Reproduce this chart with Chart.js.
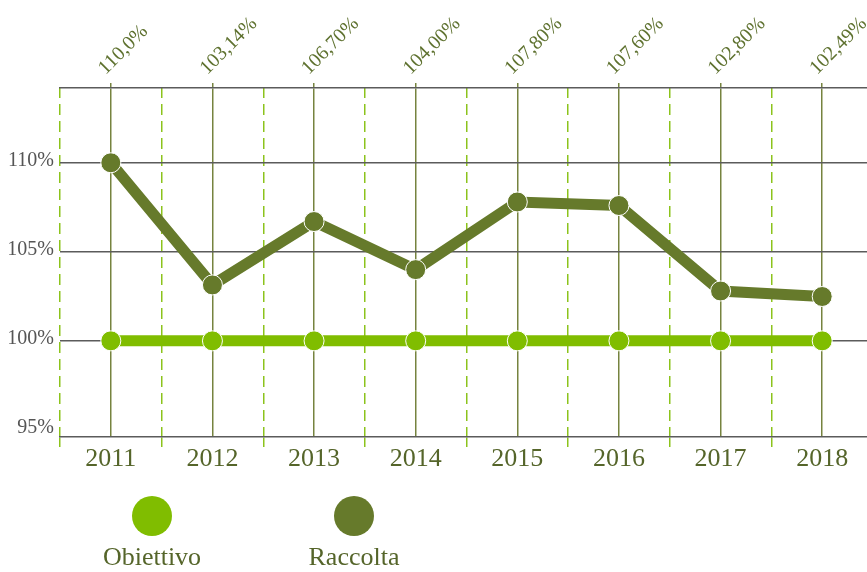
<!DOCTYPE html>
<html>
<head>
<meta charset="utf-8">
<script src="https://cdn.jsdelivr.net/npm/chart.js@4/dist/chart.umd.min.js"></script>
<style>
    html, body { margin: 0; padding: 0; background: #fff; overflow: hidden; }
    #wrap { position: relative; width: 867px; height: 572px; overflow: hidden; }
    #chart { position: absolute; left: 0; top: 0; }
    #legend { position: absolute; left: 0; top: 0; width: 867px; height: 572px; pointer-events: none; }
    .item { position: absolute; top: 496px; width: 160px; margin-left: -80px; text-align: center;
            font-family: "Liberation Serif", serif; font-size: 26px; color: #55652a; }
    .dot { width: 40px; height: 40px; border-radius: 50%; margin: 0 auto 6px auto; }
</style>
</head>
<body>
<div id="wrap">
    <canvas id="chart" width="873" height="572"></canvas>
    <div id="legend"></div>
</div>
<script>
var years = ['2011', '2012', '2013', '2014', '2015', '2016', '2017', '2018'];
var obiettivo = [100, 100, 100, 100, 100, 100, 100, 100];
var raccolta = [110.0, 103.14, 106.70, 104.00, 107.80, 107.60, 102.80, 102.49];
var topLabels = ['110,0%', '103,14%', '106,70%', '104,00%', '107,80%', '107,60%', '102,80%', '102,49%'];
var yTicks = [95, 100, 105, 110];

var colObiettivo = '#80bd00';
var colRaccolta = '#667a2b';
var legendCentres = [152, 354];

var serif = '"Liberation Serif", "Times New Roman", serif';

// no extra side padding for the rotated labels, the plot runs off the right edge
function noSidePadding(scale) {
    scale.paddingLeft = 0;
    scale.paddingRight = 0;
}

var ctx = document.getElementById('chart').getContext('2d');
var chart = new Chart(ctx, {
    type: 'line',
    data: {
        labels: years,
        datasets: [
            {
                label: 'Obiettivo',
                data: obiettivo,
                borderColor: colObiettivo,
                backgroundColor: colObiettivo,
                borderWidth: 11,
                pointRadius: 10,
                pointBorderColor: '#ffffff',
                pointBorderWidth: 1,
                pointBackgroundColor: colObiettivo,
                tension: 0
            },
            {
                label: 'Raccolta',
                data: raccolta,
                borderColor: colRaccolta,
                backgroundColor: colRaccolta,
                borderWidth: 11,
                pointRadius: 10,
                pointBorderColor: '#ffffff',
                pointBorderWidth: 1,
                pointBackgroundColor: colRaccolta,
                tension: 0
            }
        ]
    },
    options: {
        responsive: false,
        animation: false,
        layout: { padding: 0, autoPadding: false },
        plugins: {
            legend: { display: false },
            tooltip: { enabled: false }
        },
        scales: {
            x: {
                position: 'bottom',
                offset: true,
                grid: {
                    offset: true,
                    color: '#8cc31c',
                    lineWidth: 1.5,
                    tickLength: 10,
                    tickColor: '#8cc31c',
                    tickWidth: 1.5,
                    tickBorderDash: [11, 6]
                },
                border: { display: true, color: '#5b5b5b', width: 1.5, dash: [11, 6], dashOffset: 1 },
                ticks: {
                    color: '#55652a',
                    padding: -3,
                    font: { family: serif, size: 26 }
                },
                afterFit: function(scale) {
                    noSidePadding(scale);
                    scale.height = 135;
                }
            },
            x2: {
                position: 'top',
                type: 'category',
                labels: topLabels,
                offset: true,
                grid: {
                    offset: false,
                    color: '#76833f',
                    lineWidth: 1.5,
                    tickLength: 5,
                    tickColor: '#76833f'
                },
                border: { display: true, color: '#5b5b5b', width: 1.5 },
                ticks: {
                    color: '#5f7230',
                    minRotation: 45,
                    maxRotation: 45,
                    padding: 3,
                    labelOffset: 8,
                    font: { family: serif, size: 20 }
                },
                afterFit: function(scale) {
                    noSidePadding(scale);
                    scale.height = 88;
                }
            },
            y: {
                min: 94.6,
                max: 114.2,
                afterBuildTicks: function(axis) {
                    axis.ticks = yTicks.map(function(v) { return { value: v }; });
                },
                grid: {
                    color: function(c) {
                        return c.tick && c.tick.value === 95 ? 'rgba(0,0,0,0)' : '#5b5b5b';
                    },
                    lineWidth: 1.5,
                    drawTicks: false
                },
                border: { display: false },
                ticks: {
                    color: '#555555',
                    padding: 6,
                    labelOffset: -2,
                    font: { family: serif, size: 20 },
                    callback: function(v) { return v + '%'; }
                },
                afterFit: function(scale) { scale.width = 60; }
            }
        }
    }
});

// HTML legend: dot above, name below
var legendBox = document.getElementById('legend');
chart.data.datasets.forEach(function(ds, i) {
    var item = document.createElement('div');
    item.className = 'item';
    item.style.left = legendCentres[i] + 'px';
    item.innerHTML = '<div class="dot" style="background:' + ds.borderColor + '"></div>' + ds.label;
    legendBox.appendChild(item);
});
</script>
</body>
</html>
